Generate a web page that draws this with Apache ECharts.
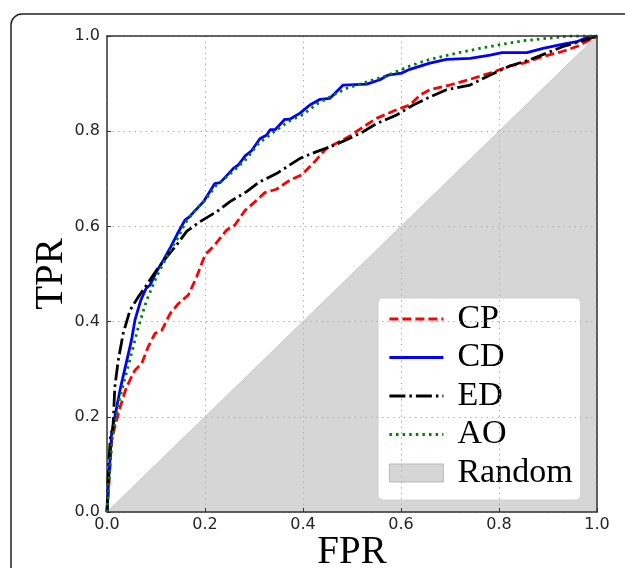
<!DOCTYPE html>
<html>
<head>
<meta charset="utf-8">
<script src="https://cdn.jsdelivr.net/npm/echarts@6/dist/echarts.min.js"></script>
<style>html,body{margin:0;padding:0;background:#fff}#c{width:625px;height:568px}</style>
</head>
<body>
<div id="c"></div>
<script>
const axisTicks = [0, 0.2, 0.4, 0.6, 0.8, 1.0];
const seriesNames = ['CP', 'CD', 'ED', 'AO', 'Random'];
const cpData = [[0,0],[0.005,0.074],[0.0095,0.151],[0.016,0.179],[0.027,0.221],[0.040,0.263],[0.057,0.298],[0.071,0.312],[0.084,0.347],[0.098,0.375],[0.112,0.382],[0.129,0.417],[0.146,0.438],[0.166,0.456],[0.183,0.494],[0.2,0.540],[0.220,0.561],[0.244,0.592],[0.261,0.603],[0.282,0.634],[0.299,0.649],[0.322,0.671],[0.346,0.678],[0.373,0.697],[0.397,0.708],[0.421,0.733],[0.448,0.764],[0.469,0.775],[0.496,0.790],[0.523,0.809],[0.550,0.827],[0.591,0.845],[0.618,0.855],[0.639,0.876],[0.659,0.887],[0.700,0.897],[0.741,0.909],[0.782,0.922],[0.822,0.937],[0.850,0.943],[0.890,0.957],[0.931,0.968],[0.959,0.978],[0.986,0.992],[1,1]];
const cdData = [[0,0],[0.003,0.061],[0.0095,0.166],[0.028,0.263],[0.050,0.361],[0.057,0.403],[0.069,0.445],[0.080,0.470],[0.088,0.477],[0.101,0.505],[0.115,0.529],[0.130,0.557],[0.144,0.585],[0.159,0.613],[0.168,0.620],[0.176,0.629],[0.197,0.652],[0.220,0.690],[0.231,0.692],[0.258,0.722],[0.268,0.729],[0.282,0.748],[0.295,0.759],[0.312,0.784],[0.326,0.792],[0.333,0.803],[0.343,0.803],[0.363,0.825],[0.373,0.825],[0.394,0.838],[0.414,0.855],[0.435,0.867],[0.455,0.869],[0.482,0.897],[0.530,0.899],[0.557,0.908],[0.574,0.918],[0.601,0.922],[0.618,0.930],[0.659,0.943],[0.693,0.951],[0.741,0.953],[0.782,0.960],[0.806,0.965],[0.857,0.965],[0.890,0.974],[0.931,0.983],[0.959,0.988],[0.979,0.997],[1,1]];
const edData = [[0,0],[0.003,0.095],[0.0075,0.165],[0.012,0.172],[0.016,0.263],[0.023,0.319],[0.033,0.375],[0.047,0.424],[0.064,0.452],[0.081,0.477],[0.101,0.508],[0.122,0.536],[0.142,0.561],[0.163,0.590],[0.190,0.610],[0.224,0.631],[0.251,0.652],[0.285,0.673],[0.312,0.694],[0.346,0.711],[0.367,0.725],[0.394,0.743],[0.428,0.757],[0.455,0.767],[0.489,0.782],[0.523,0.799],[0.550,0.816],[0.591,0.834],[0.625,0.855],[0.659,0.872],[0.693,0.887],[0.741,0.897],[0.782,0.918],[0.822,0.937],[0.863,0.950],[0.897,0.964],[0.931,0.978],[0.965,0.988],[1,1]];
const aoData = [[0,0],[0.003,0.055],[0.010,0.150],[0.025,0.235],[0.050,0.333],[0.064,0.389],[0.081,0.445],[0.101,0.494],[0.125,0.543],[0.146,0.578],[0.159,0.606],[0.180,0.634],[0.200,0.655],[0.222,0.685],[0.260,0.718],[0.285,0.742],[0.310,0.775],[0.340,0.798],[0.370,0.820],[0.400,0.835],[0.430,0.858],[0.462,0.876],[0.489,0.890],[0.523,0.901],[0.574,0.918],[0.618,0.937],[0.659,0.951],[0.714,0.964],[0.761,0.974],[0.809,0.983],[0.850,0.990],[0.897,0.995],[0.945,1.0],[1,1]];
const randomData = [[0,0],[1,1]];
const lineColors = ['#ff0000', '#0000ff', '#000000', '#008000'];
const lineTypes = [[9, 4], 'solid', [16, 4, 2.5, 4], [2.5, 4.1]];

const chart = echarts.init(document.getElementById('c'), null, {renderer: 'canvas'});
const tickFont = {fontFamily: 'DejaVu Sans', fontSize: 16, color: '#262626'};
const serif = 'Liberation Serif';
function lineSeries(i, data) {
  return {
    name: seriesNames[i], type: 'line', data: data, symbol: 'none', z: 10,
    xAxisIndex: 0, yAxisIndex: 0,
    lineStyle: {color: lineColors[i], width: 2.8, type: lineTypes[i], cap: 'butt'},
    itemStyle: {color: lineColors[i]}
  };
}
function legendLine(i) {
  return {
    name: seriesNames[i],
    itemStyle: {opacity: 0},
    lineStyle: {color: lineColors[i], width: 2.8, type: lineTypes[i], opacity: 1}
  };
}
const option = {
  animation: false,
  backgroundColor: '#fff',
  graphic: [{
    type: 'rect', silent: true, z: -1,
    shape: {x: 11, y: 14, width: 700, height: 700, r: 11},
    style: {fill: 'none', stroke: '#222', lineWidth: 1.5}
  }],
  grid: {left: 107, right: 28, top: 36, bottom: 56, outerBoundsMode: 'none', containLabel: false},
  legend: {
    orient: 'vertical', left: 378, top: 298,
    backgroundColor: '#fff', borderColor: '#d0d0d0', borderWidth: 1, borderRadius: 5,
    padding: [4, 8, 10, 10], itemGap: 4.5, itemWidth: 54, itemHeight: 18,
    textStyle: {fontFamily: serif, fontSize: 34, color: '#000', lineHeight: 34, padding: [0, 0, 0, 9]},
    data: [
      legendLine(0), legendLine(1), legendLine(2), legendLine(3),
      {name: seriesNames[4], icon: 'rect', itemStyle: {color: '#d6d6d6', borderColor: '#b8b8b8', borderWidth: 1}}
    ]
  },
  xAxis: [{
    type: 'value', min: 0, max: 1, interval: 0.2, z: 5,
    name: 'FPR', nameLocation: 'middle', nameGap: 21, nameMoveOverlap: false,
    nameTextStyle: {fontFamily: serif, fontSize: 39, color: '#000'},
    axisLine: {show: true, onZero: false, lineStyle: {color: '#333', width: 1.5}},
    axisTick: {show: true, inside: true, length: 4, lineStyle: {color: '#333'}},
    axisLabel: Object.assign({margin: 5, formatter: v => v.toFixed(1)}, tickFont),
    splitLine: {show: true, lineStyle: {color: '#b0b0b0', width: 1, type: [1.5, 4]}}
  }, {
    type: 'value', min: 0, max: 1, position: 'top', z: 20,
    axisLine: {show: true, onZero: false, lineStyle: {color: '#333', width: 1.5}},
    axisTick: {show: false}, axisLabel: {show: false}, splitLine: {show: false}
  }],
  yAxis: [{
    type: 'value', min: 0, max: 1, interval: 0.2, z: 5,
    name: 'TPR', nameLocation: 'middle', nameGap: 36, nameRotate: 90, nameMoveOverlap: false,
    nameTextStyle: {fontFamily: serif, fontSize: 39, color: '#000'},
    axisLine: {show: true, onZero: false, lineStyle: {color: '#333', width: 1.5}},
    axisTick: {show: true, inside: true, length: 4, lineStyle: {color: '#333'}},
    axisLabel: Object.assign({margin: 7, formatter: v => v.toFixed(1)}, tickFont),
    splitLine: {show: true, lineStyle: {color: '#b0b0b0', width: 1, type: [1.5, 4]}}
  }, {
    type: 'value', min: 0, max: 1, position: 'right', z: 20,
    axisLine: {show: true, onZero: false, lineStyle: {color: '#333', width: 1.5}},
    axisTick: {show: false}, axisLabel: {show: false}, splitLine: {show: false}
  }],
  series: [
    {
      name: seriesNames[4], type: 'line', data: randomData, symbol: 'none', z: 1,
      lineStyle: {color: '#c8c8c8', width: 1},
      itemStyle: {color: '#d6d6d6'},
      areaStyle: {color: '#d6d6d6', opacity: 1}
    },
    lineSeries(0, cpData),
    lineSeries(1, cdData),
    lineSeries(2, edData),
    lineSeries(3, aoData)
  ]
};
chart.setOption(option);
</script>
</body>
</html>
